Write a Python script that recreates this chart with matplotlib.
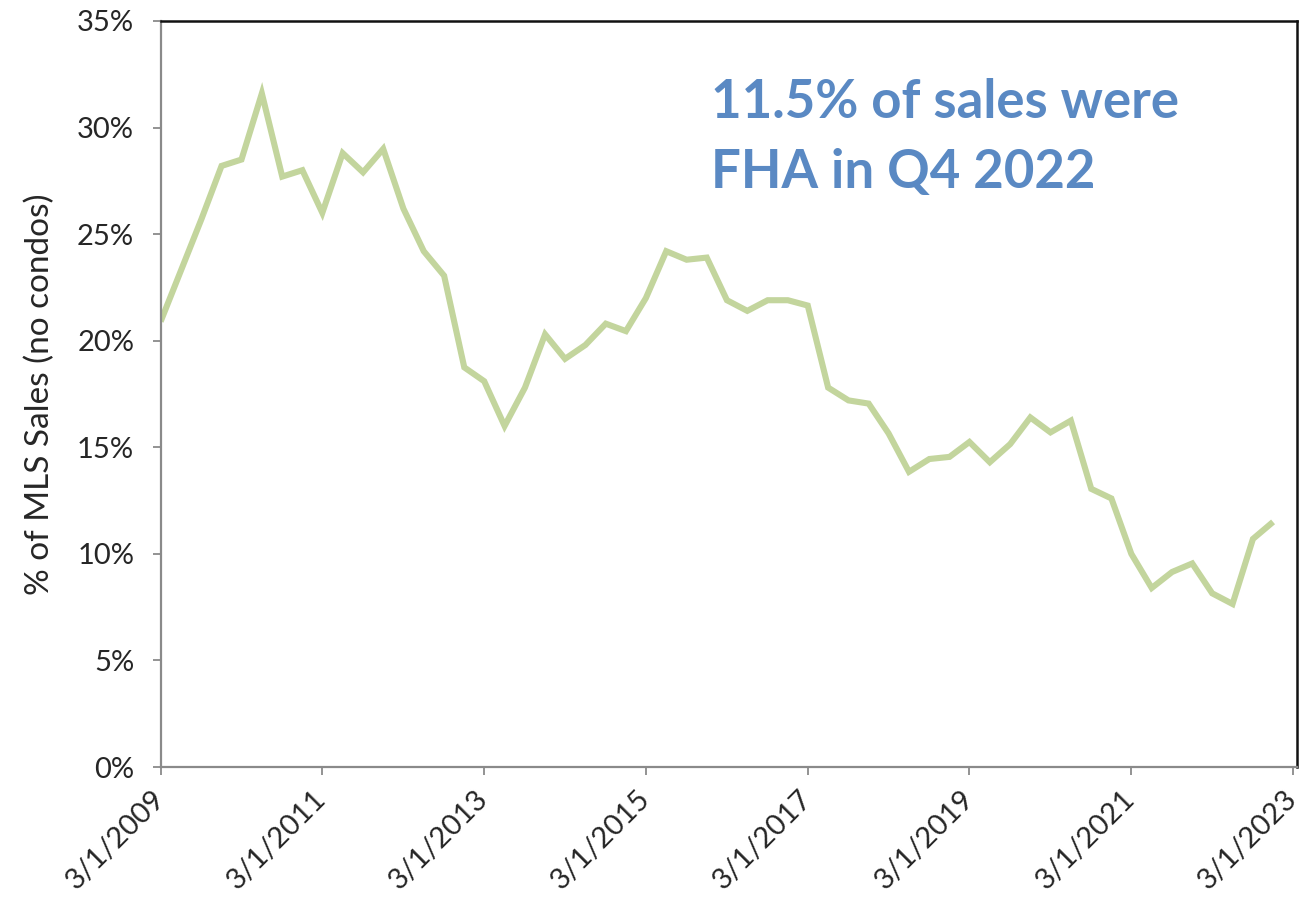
import matplotlib
matplotlib.use("Agg")
import matplotlib.pyplot as plt
import pandas as pd

# Quarterly share of MLS sales (no condos) financed with FHA loans, percent
quarters = pd.date_range("2009-03-01", "2022-12-01", freq="3MS")
fha_share = [
    20.9, 23.3, 25.7, 28.2, 28.5, 31.6, 27.7, 28.0,   # 2009-2010
    26.0, 28.8, 27.9, 29.0, 26.2, 24.2, 23.05, 18.75,  # 2011-2012
    18.1, 16.0, 17.8, 20.3, 19.15, 19.8, 20.8, 20.45,  # 2013-2014
    22.0, 24.2, 23.8, 23.9, 21.9, 21.4, 21.9, 21.9,    # 2015-2016
    21.65, 17.8, 17.2, 17.05, 15.65, 13.85, 14.45, 14.55,  # 2017-2018
    15.25, 14.3, 15.15, 16.4, 15.7, 16.25, 13.05, 12.6,    # 2019-2020
    10.0, 8.4, 9.15, 9.55, 8.15, 7.65, 10.7, 11.5,         # 2021-2022
]
tick_dates = pd.date_range("2009-03-01", "2023-03-01", freq="24MS")
tick_labels = [f"{d.month}/{d.day}/{d.year}" for d in tick_dates]
y_ticks = list(range(0, 36, 5))
annotation = "11.5% of sales were\nFHA in Q4 2022"

plt.rcParams["font.family"] = ["Lato", "DejaVu Sans"]

fig = plt.figure(figsize=(13.06, 9.01), dpi=100)
ax = fig.add_axes([0.123, 0.1487, 0.8701, 0.828])

ax.plot(quarters, fha_share, color="#c3d59d", linewidth=4.4,
        solid_joinstyle="miter", solid_capstyle="butt")

ax.set_xlim(pd.Timestamp("2009-03-01"), pd.Timestamp("2023-03-19"))
ax.set_ylim(0, 35)

ax.set_yticks(y_ticks)
ax.set_yticklabels([f"{v}%" for v in y_ticks])
ax.set_xticks(tick_dates)
ax.set_xticklabels(tick_labels, rotation=45, ha="right", va="center",
                   rotation_mode="anchor")

ax.tick_params(axis="both", direction="out", length=6, width=1.3,
               color="#8a8a8a", labelcolor="#262626")
ax.tick_params(axis="y", pad=13, labelsize=21)
ax.tick_params(axis="x", pad=14, labelsize=21)

for side in ("left", "bottom"):
    ax.spines[side].set_color("#8a8a8a")
    ax.spines[side].set_linewidth(1.6)
for side in ("top", "right"):
    ax.spines[side].set_color("#111111")
    ax.spines[side].set_linewidth(1.8)

ax.set_ylabel("% of MLS Sales (no condos)", fontsize=24, color="#262626",
              labelpad=16)

ax.text(0.484, 0.924, annotation, transform=ax.transAxes,
        fontsize=38, fontweight="bold", color="#5a89c3",
        ha="left", va="top", linespacing=1.53)

fig.savefig("out.png", dpi=100, facecolor="white")
